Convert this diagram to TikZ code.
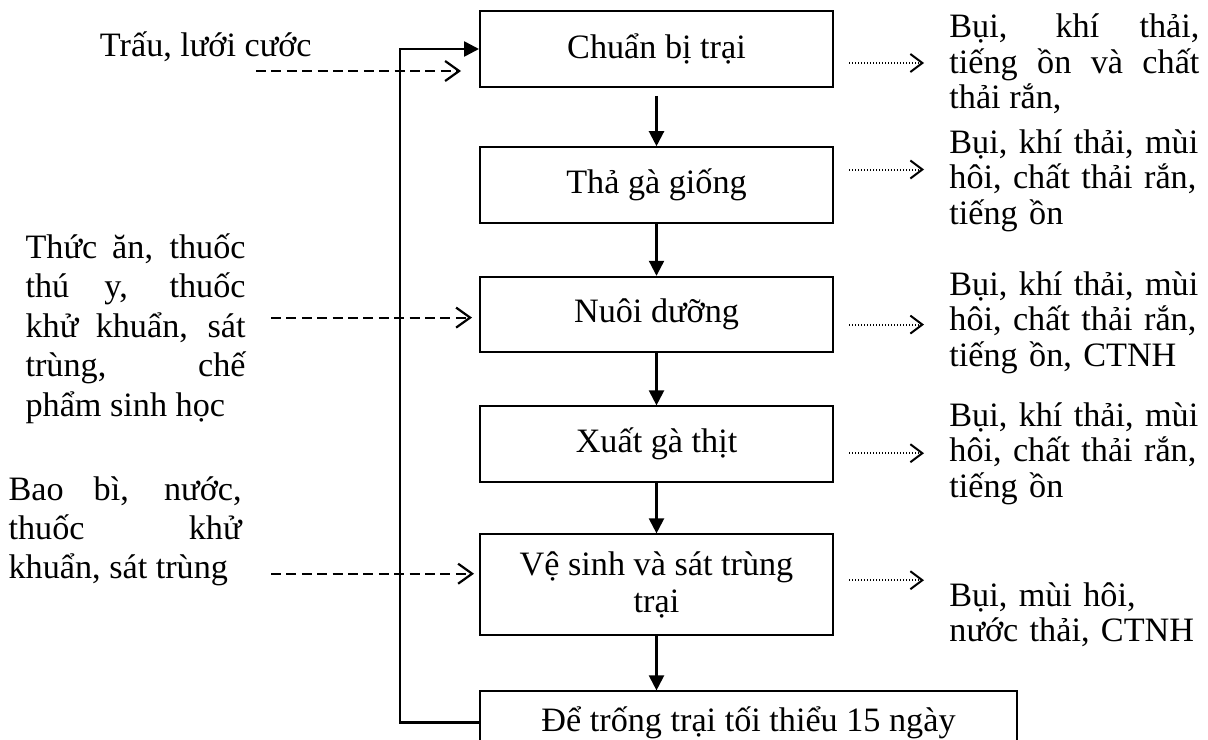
\documentclass[tikz,border=0pt]{standalone}
\usepackage{fontspec}
\setmainfont{Liberation Serif}
\usetikzlibrary{arrows.meta,positioning}

\begin{document}
\begin{tikzpicture}[
    node distance=26pt,
    font=\fontsize{17.1pt}{19.7pt}\selectfont,
    stage/.style={rectangle, draw, line width=1pt, minimum width=176.5pt, minimum height=37.8pt, align=center, inner sep=2pt, font=\fontsize{17.1pt}{18.5pt}\selectfont},
    inlist/.style={inner sep=0pt, text width=#1, align=justify},
    outlist/.style={inner sep=0pt, text width=125pt, font=\fontsize{17.1pt}{17.75pt}\selectfont},
    flow/.style={-{Triangle[length=7.5pt, width=7.5pt]}, line width=1.1pt},
    loopback/.style={-{Triangle[length=7.5pt, width=7.5pt]}, line width=1.3pt},
    supply/.style={-{Straight Barb[length=7pt, width=10pt]}, line width=1.1pt, dash pattern=on 5pt off 2.7pt},
    emission/.style={-{Straight Barb[length=6pt, width=9pt]}, line width=1pt, dash pattern=on 0.6pt off 0.9pt},
]
\useasboundingbox (0,0) rectangle (604pt,-369.5pt);

\node[stage] (b1) at (328.25pt,-24.5pt) {Chuẩn bị trại};
\node[stage, below=29.2pt of b1] (b2) {Thả gà giống};
\node[stage, below=of b2] (b3) {Nuôi dưỡng};
\node[stage, below=of b3] (b4) {Xuất gà thịt};
\node[stage, below=25.2pt of b4, minimum height=50.3pt] (b5) {Vệ sinh và sát trùng\\trại};
\node[stage, below=27.2pt of b5.south west, anchor=north west, minimum width=268.5pt, minimum height=31pt] (b6) {Để trống trại tối thiểu 15 ngày};

% inputs
\node[inner sep=0pt, left=83.5pt of b1, yshift=1pt] (i1) {Trấu, lưới cước};
\node[inlist=110pt, left=116.5pt of b3, yshift=-7pt] (i2) {Thức ăn, thuốc\linebreak thú y, thuốc\linebreak khử khuẩn, sát\linebreak trùng, chế\linebreak phẩm sinh học};
\node[inlist=116.5pt, left=118.5pt of b5, yshift=26.7pt] (i3) {Bao bì, nước,\linebreak thuốc khử\linebreak khuẩn, sát trùng};

% outputs
\node[outlist, align=justify, right=57.5pt of b1, yshift=-7.5pt] (o1) {Bụi, khí thải,\linebreak tiếng ồn và chất\linebreak thải rắn,};
\node[outlist, align=left, right=57.5pt of b2, yshift=2.2pt] (o2) {Bụi, khí thải, mùi\\hôi, chất thải rắn,\\tiếng ồn};
\node[outlist, align=left, right=57.5pt of b3, yshift=-3.9pt] (o3) {Bụi, khí thải, mùi\\hôi, chất thải rắn,\\tiếng ồn, CTNH};
\node[outlist, align=left, right=57.5pt of b4, yshift=-4.6pt] (o4) {Bụi, khí thải, mùi\\hôi, chất thải rắn,\\tiếng ồn};
\node[outlist, align=left, right=57.5pt of b5, yshift=-15pt] (o5) {Bụi, mùi hôi,\\nước thải, CTNH};

\draw[flow, shorten <=4pt] (b1) -- (b2);
\draw[flow] (b2) -- (b3);
\draw[flow] (b3) -- (b4);
\draw[flow] (b4) -- (b5);
\draw[flow] (b5) -- (b5.south |- b6.north);
\draw[loopback] (b6.west) -- ++(-39.5pt,0) |- (b1.west);

\coordinate (e1) at ([yshift=-11pt]b1.west);
\coordinate (e3) at ([yshift=-1.5pt]b3.west);
\coordinate (e5) at ([yshift=5.5pt]b5.west);
\draw[supply, shorten >=9pt] ([xshift=-111.5pt]e1) -- (e1);
\draw[supply, shorten <=12.5pt, shorten >=3.5pt] (i2.east |- e3) -- (e3);
\draw[supply, shorten <=14.5pt, shorten >=2.5pt] (i3.east |- e5) -- (e5);

\draw[emission] ([xshift=7.5pt, yshift=-7pt]b1.east) -- ++(37.5pt,0);
\draw[emission] ([xshift=7.5pt, yshift=7.75pt]b2.east) -- ++(37.5pt,0);
\draw[emission] ([xshift=7.5pt, yshift=-5pt]b3.east) -- ++(37.5pt,0);
\draw[emission] ([xshift=7.5pt, yshift=-4.5pt]b4.east) -- ++(37.5pt,0);
\draw[emission] ([xshift=7.5pt, yshift=2.25pt]b5.east) -- ++(37.5pt,0);
\end{tikzpicture}
\end{document}
